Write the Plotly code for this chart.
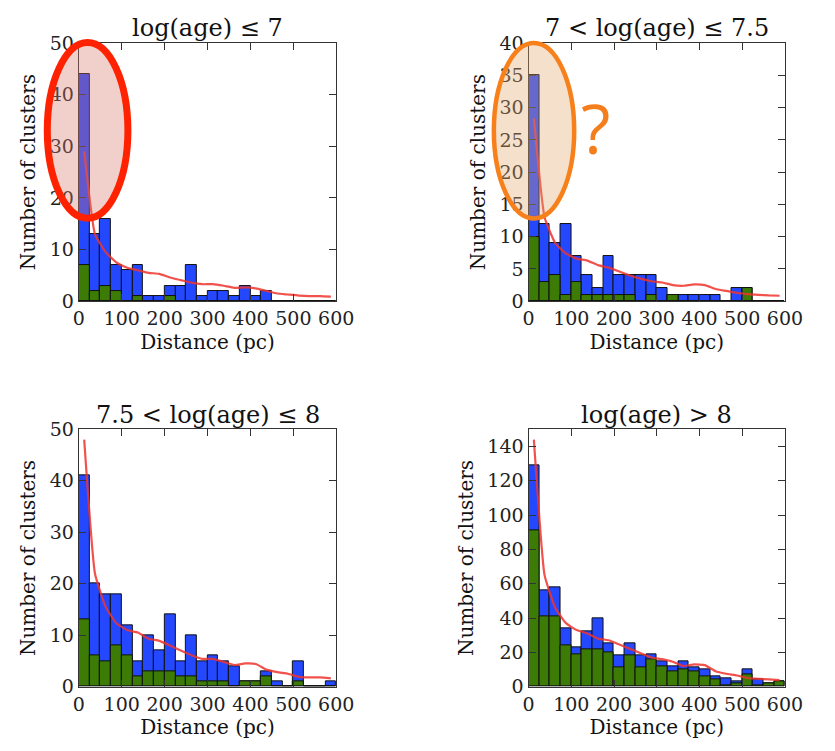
import plotly.graph_objects as go

# ---------------- data ----------------
bin_edges = [0, 25, 50, 75, 100, 125, 150, 175, 200, 225, 250, 275, 300, 325,
             350, 375, 400, 425, 450, 475, 500, 525, 550, 575, 600]
bin_centers = [(a + b) / 2 for a, b in zip(bin_edges[:-1], bin_edges[1:])]
bin_width = bin_edges[1] - bin_edges[0]

titles = ["log(age) ≤ 7", "7 < log(age) ≤ 7.5", "7.5 < log(age) ≤ 8", "log(age) > 8"]

blue1 = [44, 13, 16, 7, 6, 7, 1, 1, 3, 3, 7, 1, 2, 2, 1, 3, 1, 2, 0, 0, 0, 0, 0, 0]
green1 = [7, 2, 3, 2, 0, 1, 0, 0, 1, 0, 0, 0, 0, 0, 0, 0, 0, 0, 0, 0, 0, 0, 0, 0]
red1 = [29, 13, 9.5, 7.5, 6.5, 6.0, 5.5, 5.3, 4.6, 4.1, 3.6, 3.3, 3.3, 3.0, 2.6, 2.7,
        2.5, 2.0, 1.5, 1.3, 1.1, 1.0, 1.0, 0.9]

blue2 = [35, 12, 9, 12, 7, 4, 2, 7, 4, 4, 4, 4, 2, 1, 1, 1, 1, 1, 0, 2, 2, 0, 0, 0]
green2 = [10, 3, 4, 1, 3, 1, 1, 1, 1, 1, 0, 1, 0, 1, 0, 0, 0, 0, 0, 0, 2, 0, 0, 0]
red2 = [28.3, 13, 9, 7.4, 6.6, 6.3, 5.6, 5.2, 4.6, 4.0, 3.5, 3.1, 2.9, 2.5, 2.4, 2.6,
        2.5, 1.9, 1.6, 1.3, 1.1, 1.0, 0.9, 0.85]

blue3 = [41, 20, 18, 18, 12, 5, 10, 7, 14, 5, 10, 5, 6, 5, 4, 1, 1, 3, 1, 0, 5, 0, 0, 1]
green3 = [13, 6, 5, 8, 6, 2, 3, 3, 3, 2, 2, 1, 1, 1, 0, 1, 1, 2, 0, 0, 1, 0, 0, 0]
red3 = [48, 22, 15.5, 12.3, 11, 10.5, 9.3, 8.9, 8.0, 7.0, 6.1, 5.4, 5.4, 4.8, 4.2, 4.5,
        4.4, 3.3, 2.8, 2.5, 1.9, 1.8, 1.8, 1.6]

blue4 = [129, 56, 58, 34, 23, 32, 40, 25, 18, 25, 18, 19, 15, 12, 15, 11, 10, 6, 5, 3,
         10, 4, 2, 3]
green4 = [91, 41, 41, 24, 19, 22, 22, 20, 11, 18, 11, 16, 12, 9, 10, 9, 6, 4, 1, 2, 7,
          1, 2, 3]
red4 = [144, 65, 46, 37, 33, 31, 28, 27, 24.5, 22, 19.5, 17, 16, 14.5, 12, 13, 12.5,
        9, 7.5, 6.5, 5, 4.5, 4.2, 3.8]

y_max = [50, 40, 50, 150]
y_dtick = [10, 5, 10, 20]
x_ticks = [0, 100, 200, 300, 400, 500, 600]

panels = [(blue1, green1, red1), (blue2, green2, red2),
          (blue3, green3, red3), (blue4, green4, red4)]

# ---------------- figure ----------------
W, H = 835, 751
SERIF = "DejaVu Serif, serif"
BLUE = "#2448ff"
GREEN = "#3b7b06"
RED = "rgba(238,52,45,0.85)"

# plot-area boxes in pixels: (left, right, top, bottom)
boxes = [(75, 340, 33, 299), (538, 802, 33, 299),
         (75, 340, 431, 696), (538, 802, 431, 696)]

fig = go.Figure()
layout = dict(width=W, height=H, margin=dict(l=0, r=0, t=0, b=0),
              paper_bgcolor="white", plot_bgcolor="white", showlegend=False,
              barmode="overlay", bargap=0, font=dict(family=SERIF, color="#111"))

annotations = []
for i, ((blue, green, red), (l, r, t, b)) in enumerate(zip(panels, boxes)):
    n = i + 1
    xa = "x" if n == 1 else f"x{n}"
    ya = "y" if n == 1 else f"y{n}"
    fig.add_trace(go.Bar(x=bin_centers, y=blue, width=bin_width, xaxis=xa, yaxis=ya,
                         marker=dict(color=BLUE, line=dict(color="#111", width=1))))
    fig.add_trace(go.Bar(x=bin_centers, y=green, width=bin_width, xaxis=xa, yaxis=ya,
                         marker=dict(color=GREEN, line=dict(color="#111", width=1))))
    fig.add_trace(go.Scatter(x=bin_centers, y=red, mode="lines", xaxis=xa, yaxis=ya,
                             line=dict(color=RED, width=2.2, shape="spline",
                                       smoothing=0.4)))
    axis_common = dict(showgrid=False, zeroline=False, showline=True, linecolor="#333",
                       linewidth=1.2, mirror="ticks", ticks="inside", ticklen=7,
                       tickcolor="#333", tickfont=dict(family=SERIF, size=19, color="#222"))
    layout["xaxis" if n == 1 else f"xaxis{n}"] = dict(
        domain=[l / W, r / W], anchor=ya, range=[0, 600], tickvals=x_ticks,
        title=dict(text="Distance (pc)", font=dict(family=SERIF, size=20, color="#111"),
                   standoff=6),
        **axis_common)
    layout["yaxis" if n == 1 else f"yaxis{n}"] = dict(
        domain=[1 - b / H, 1 - t / H], anchor=xa, range=[0, y_max[i]],
        dtick=y_dtick[i], tick0=0,
        title=dict(text="Number of clusters",
                   font=dict(family=SERIF, size=20, color="#111"), standoff=8),
        **axis_common)
    annotations.append(dict(text=titles[i], xref="paper", yref="paper",
                            x=(l + r) / 2 / W, y=1 - (t - 15) / H, showarrow=False,
                            xanchor="center", yanchor="middle",
                            font=dict(family=SERIF, size=24, color="#111")))

# question mark annotation
annotations.append(dict(text="?", xref="paper", yref="paper", x=607 / W, y=1 - 120 / H,
                        showarrow=False, xanchor="center", yanchor="middle",
                        font=dict(family="Open Sans, sans-serif", size=68,
                                  color="#f57e1c")))
layout["annotations"] = annotations

layout["shapes"] = [
    dict(type="circle", xref="paper", yref="paper", layer="above",
         x0=42.5 / W, x1=125.5 / W, y0=1 - 213.5 / H, y1=1 - 32.5 / H,
         line=dict(color="#ff2200", width=7), fillcolor="rgba(215,120,110,0.35)"),
    dict(type="circle", xref="paper", yref="paper", layer="above",
         x0=502.3 / W, x1=585 / W, y0=1 - 213.7 / H, y1=1 - 33 / H,
         line=dict(color="#f7801a", width=4.5), fillcolor="rgba(225,165,110,0.35)"),
]

fig.update_layout(**layout)
fig.write_html("out.html")
